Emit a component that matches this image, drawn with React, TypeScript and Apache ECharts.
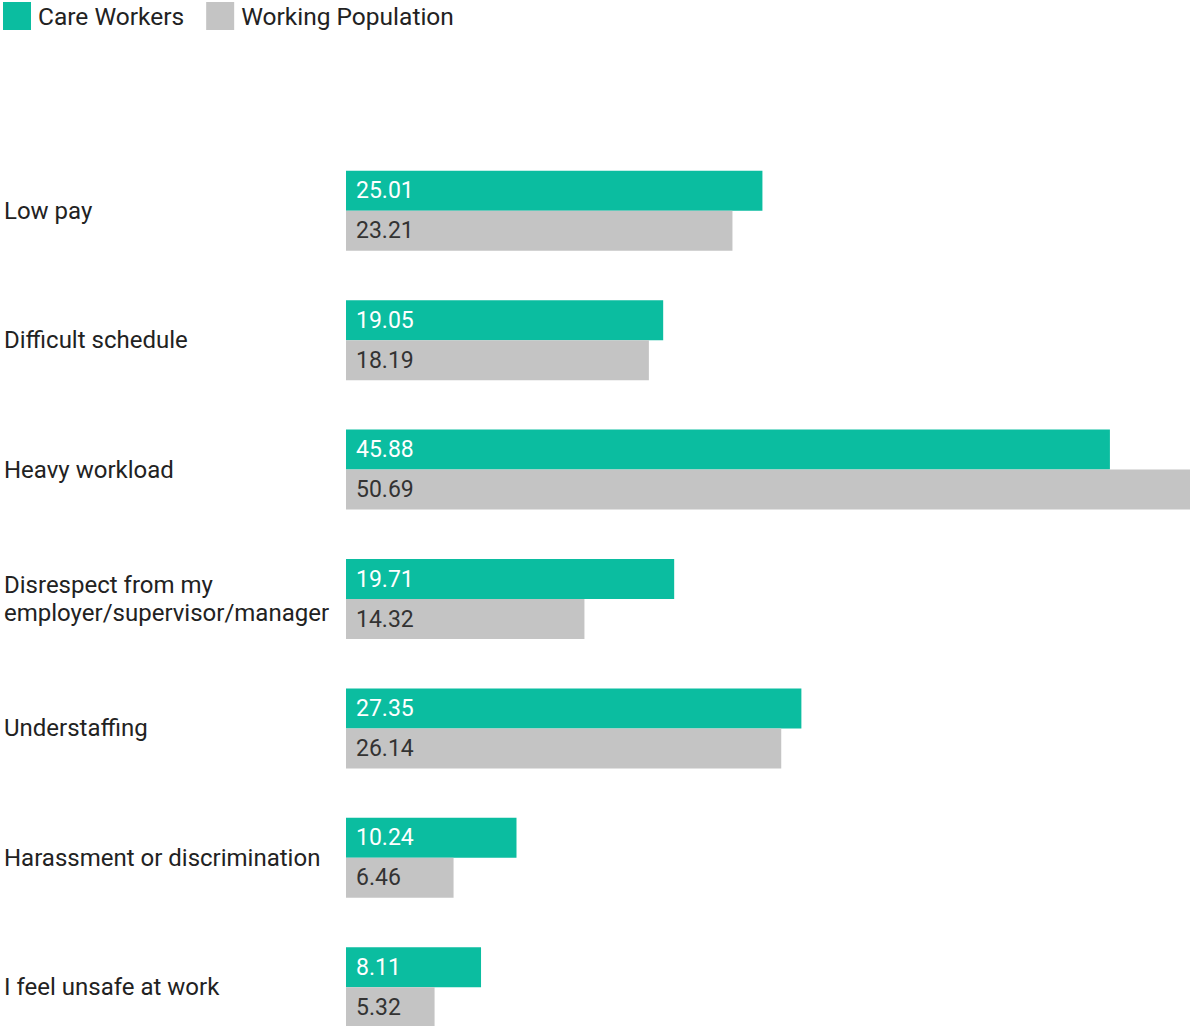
import React, { useEffect, useRef } from "react";
import * as echarts from "echarts";

const categories = [
  "Low pay",
  "Difficult schedule",
  "Heavy workload",
  "Disrespect from my\nemployer/supervisor/manager",
  "Understaffing",
  "Harassment or discrimination",
  "I feel unsafe at work",
];
const careWorkers = [25.01, 19.05, 45.88, 19.71, 27.35, 10.24, 8.11];
const workingPopulation = [23.21, 18.19, 50.69, 14.32, 26.14, 6.46, 5.32];
const seriesNames = ["Care Workers", "Working Population"];

const FONT = "Roboto, 'Noto Sans', sans-serif";

export default function App() {
  const ref = useRef<HTMLDivElement>(null);
  useEffect(() => {
    if (!ref.current) return;
    const chart = echarts.init(ref.current, undefined, { renderer: "svg" });
    chart.setOption({
      animation: false,
      textStyle: { fontFamily: FONT },
      color: ["#0BBDA0", "#C4C4C4"],
      legend: {
        left: 3,
        top: 2,
        padding: 0,
        itemWidth: 28,
        itemHeight: 28,
        itemGap: 22,
        icon: "rect",
        textStyle: { fontSize: 24.5, color: "#222", fontFamily: FONT, padding: [0, 0, 0, 2] },
        data: seriesNames,
      },
      grid: { left: 346, right: 0, top: 146, bottom: 0, containLabel: false },
      xAxis: {
        type: "value",
        min: 0,
        max: "dataMax",
        show: false,
        splitLine: { show: false },
      },
      yAxis: {
        type: "category",
        inverse: true,
        data: categories,
        axisLine: { show: false },
        axisTick: { show: false },
        axisLabel: {
          align: "left",
          margin: 342,
          fontSize: 24,
          lineHeight: 28,
          color: "#222",
          fontFamily: FONT,
        },
      },
      series: [
        {
          name: seriesNames[0],
          type: "bar",
          data: careWorkers,
          barWidth: 40,
          barGap: "0%",
          label: {
            show: true,
            position: "insideLeft",
            distance: 10,
            color: "#fff",
            fontSize: 23,
            fontFamily: FONT,
            formatter: (p: any) => p.value.toFixed(2),
          },
        },
        {
          name: seriesNames[1],
          type: "bar",
          data: workingPopulation,
          barWidth: 40,
          barGap: "0%",
          label: {
            show: true,
            position: "insideLeft",
            distance: 10,
            color: "#333",
            fontSize: 23,
            fontFamily: FONT,
            formatter: (p: any) => p.value.toFixed(2),
          },
        },
      ],
    });
    return () => chart.dispose();
  }, []);
  return (
    <div
      style={{
        position: "absolute",
        left: 0,
        top: 0,
        width: 1190,
        height: 1026,
        overflow: "hidden",
        background: "#fff",
      }}
    >
      <div ref={ref} style={{ width: 1190, height: 1052 }} />
    </div>
  );
}
